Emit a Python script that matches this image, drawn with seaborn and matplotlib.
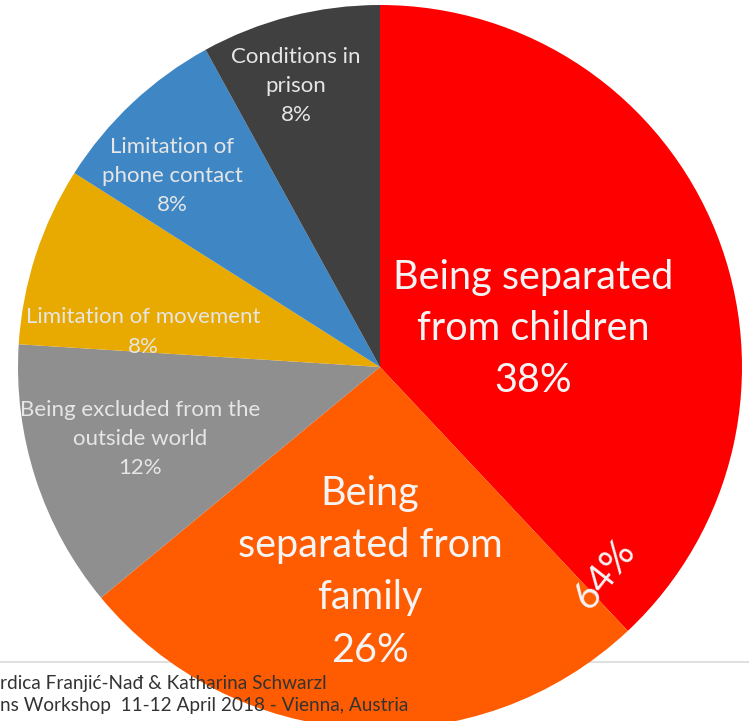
# Pie chart: main stressors reported by imprisoned mothers
import matplotlib
matplotlib.use("Agg")
import matplotlib.pyplot as plt
import seaborn as sns

# data (clockwise from the top)
kategori = ["Being separated\nfrom children", "Being\nseparated from\nfamily",
            "Being excluded from the\noutside world", "Limitation of movement",
            "Limitation of\nphone contact", "Conditions in\nprison"]
persen = [38, 26, 12, 8, 8, 8]
gabungan = "64%"
footer = ["rdica Franjić-Nađ & Katharina Schwarzl",
          "ns Workshop  11-12 April 2018 - Vienna, Austria"]

warna = ["#FF0000", "#FF5B00", "#8F8F8F", "#E8A900", "#3F87C4", "#404040"]

sns.set_theme(style="white")
plt.rcParams["font.family"] = ["Lato", "DejaVu Sans"]

W, H = 749, 721
fig = plt.figure(figsize=(W / 100, H / 100), dpi=100)
ax = fig.add_axes([0, 0, 1, 1])

# pusat dan jari-jari pie dalam piksel (y ke atas)
cx, cy, r = 380, H - 367, 362

# garis tipis di belakang pie
ax.plot([0, W], [H - 662, H - 662], color="#DADADA", lw=1.2, zorder=0)

wedges, _ = ax.pie(persen, colors=warna, startangle=90, counterclock=False,
                   center=(cx, cy), radius=r, wedgeprops=dict(linewidth=0))

# posisi label (piksel gambar)
pos = [(533, 329), (370, 572), (140, 439), (143, 332), (172, 176), (296, 86)]
besar = [True, True, False, False, False, False]
for lab, p, (x, y), big in zip(kategori, persen, pos, besar):
    ax.text(x, H - y, f"{lab}\n{p}%", ha="center", va="center",
            color="#F4F4F4" if big else "#E6E6E6",
            fontsize=28.5 if big else 16,
            linespacing=1.5 if big else 1.58)

ax.text(605, H - 574, gabungan, ha="center", va="center", rotation=52,
        color="#F4F4F4", fontsize=28)

for i, line in enumerate(footer):
    ax.text(0, H - 683 - 23 * i, line, ha="left", va="center",
            color="#333333", fontsize=13.7)

ax.set_xlim(0, W)
ax.set_ylim(0, H)
ax.set_aspect("equal")
ax.axis("off")

fig.savefig("out.png", dpi=100)
